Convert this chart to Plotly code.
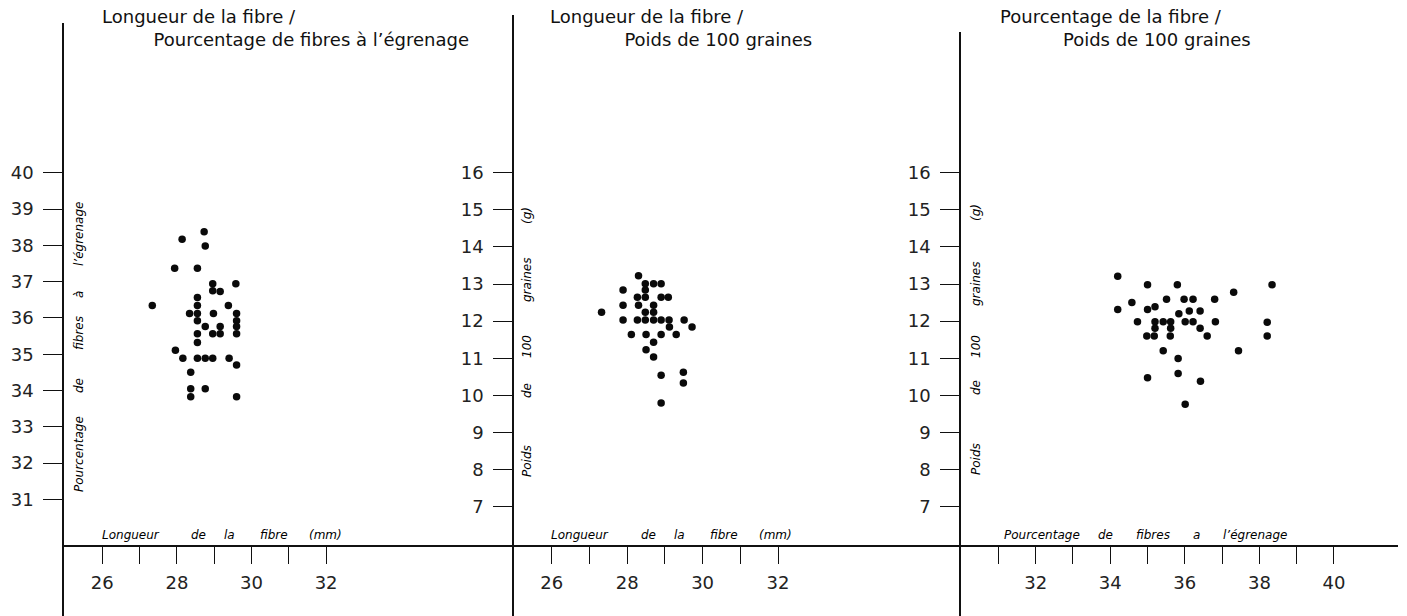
import plotly.graph_objects as go

W, H = 1407, 616

# ---------------- data ----------------
# Panel 1: fibre length (mm) vs ginning out-turn (%)
p1_length = [28.73, 28.14, 28.76, 27.94, 28.55, 28.96, 29.58, 28.96, 29.16, 28.55,
             27.34, 28.55, 29.38, 28.34, 28.55, 28.98, 29.60, 28.55, 29.60, 28.76,
             29.16, 29.60, 28.55, 28.96, 29.16, 29.60, 28.55, 27.96, 28.16, 28.55,
             28.76, 28.96, 29.40, 29.60, 28.37, 28.37, 28.76, 28.37, 29.60]
p1_pct = [38.37, 38.17, 37.98, 37.37, 37.37, 36.94, 36.94, 36.75, 36.73, 36.56,
          36.34, 36.34, 36.34, 36.12, 36.12, 36.12, 36.12, 35.92, 35.92, 35.76,
          35.76, 35.76, 35.56, 35.56, 35.56, 35.56, 35.32, 35.11, 34.89, 34.89,
          34.89, 34.89, 34.89, 34.70, 34.50, 34.05, 34.05, 33.83, 33.83]

# Panel 2: fibre length (mm) vs weight of 100 seeds (g)
p2_length = [28.30, 28.48, 28.70, 28.90, 27.89, 28.48, 28.27, 28.48, 28.90, 29.09,
             27.32, 27.89, 28.30, 28.70, 28.48, 28.70, 27.89, 28.27, 28.48, 28.70,
             28.90, 29.11, 29.51, 29.12, 29.72, 28.11, 28.50, 28.90, 29.30, 28.70,
             28.50, 28.70, 28.90, 29.49, 29.49, 28.90]
p2_weight = [13.22, 13.01, 13.01, 13.01, 12.84, 12.84, 12.64, 12.64, 12.64, 12.64,
             12.24, 12.43, 12.43, 12.43, 12.24, 12.24, 12.03, 12.03, 12.03, 12.03,
             12.03, 12.03, 12.03, 11.84, 11.84, 11.64, 11.64, 11.64, 11.64, 11.43,
             11.23, 11.03, 10.54, 10.62, 10.33, 9.79]

# Panel 3: ginning out-turn (%) vs weight of 100 seeds (g)
p3_pct = [34.20, 35.00, 35.80, 38.34, 37.31, 35.51, 35.98, 36.22, 36.80, 34.58,
          34.20, 35.00, 35.20, 36.12, 36.41, 35.84, 34.73, 35.20, 35.42, 35.62,
          36.01, 36.22, 36.82, 38.21, 35.20, 35.62, 36.41, 34.98, 35.18, 35.61,
          36.60, 38.21, 35.42, 37.44, 35.82, 35.82, 35.00, 36.42, 36.01]
p3_weight = [13.21, 12.98, 12.98, 12.98, 12.78, 12.59, 12.59, 12.59, 12.59, 12.50,
             12.31, 12.31, 12.39, 12.27, 12.27, 12.20, 11.98, 11.98, 11.98, 11.98,
             11.98, 11.98, 11.98, 11.97, 11.81, 11.81, 11.81, 11.60, 11.60, 11.60,
             11.60, 11.60, 11.20, 11.20, 10.99, 10.59, 10.47, 10.38, 9.76]

# tick values / labels
x1_ticks = [26, 27, 28, 29, 30, 31, 32]
x1_labels = ["26", "", "28", "", "30", "", "32"]
y1_ticks = [31, 32, 33, 34, 35, 36, 37, 38, 39, 40]
y2_ticks = [7, 8, 9, 10, 11, 12, 13, 14, 15, 16]
x3_ticks = [31, 32, 33, 34, 35, 36, 37, 38, 39, 40]
x3_labels = ["", "32", "", "34", "", "36", "", "38", "", "40"]

titles = [
    ("Longueur de la fibre /", "Pourcentage de fibres à l’égrenage"),
    ("Longueur de la fibre /", "Poids de 100 graines"),
    ("Pourcentage de la fibre /", "Poids de 100 graines"),
]
x_titles = [
    ["Longueur", "de", "la", "fibre", "(mm)"],
    ["Longueur", "de", "la", "fibre", "(mm)"],
    ["Pourcentage", "de", "fibres", "a", "l’égrenage"],
]
y_titles = [
    ["Pourcentage", "de", "fibres", "à", "l’égrenage"],
    ["Poids", "de", "100", "graines", "(g)"],
    ["Poids", "de", "100", "graines", "(g)"],
]

# ---------------- layout geometry (pixels) ----------------
XAXIS_Y = 546
panels = [
    dict(left=64, right=513, top=23, xv=26, xp=102.3, xu=37.3, yv=40, yp=172.7, yu=36.3),
    dict(left=514, right=961, top=15, xv=26, xp=551.8, xu=37.7, yv=16, yp=172.7, yu=37.1),
    dict(left=961, right=1398, top=32, xv=32, xp=1035.7, xu=37.28, yv=16, yp=172.7, yu=37.1),
]
title_x = [100, 548, 998]
title_indent = [9, 13, 11]   # second-line indent, in spaces
xt_pos = [
    [130.5, 198.5, 229.5, 274, 325],
    [580, 648, 679, 724, 775],
    [1041.5, 1105, 1153, 1196.5, 1254.5],
]
yt_x = [79, 527, 976]
yt_pos = [
    [454, 386, 333, 295, 234],
    [461, 391, 347, 280, 216],
    [459, 388, 347, 284, 213],
]

fig = go.Figure()
datasets = [(p1_length, p1_pct), (p2_length, p2_weight), (p3_pct, p3_weight)]
for i, (xs, ys) in enumerate(datasets):
    sfx = "" if i == 0 else str(i + 1)
    fig.add_trace(go.Scatter(
        x=xs, y=ys, mode="markers", xaxis="x" + sfx, yaxis="y" + sfx,
        marker=dict(size=7.5, color="#0a0a0a", line=dict(width=0)),
        showlegend=False, hoverinfo="skip"))

tickfont = dict(family="DejaVu Sans", size=18, color="#222222")
lay = {}
xtick_sets = [(x1_ticks, x1_labels), (x1_ticks, x1_labels), (x3_ticks, x3_labels)]
ytick_sets = [y1_ticks, y2_ticks, y2_ticks]
for i, p in enumerate(panels):
    sfx = "" if i == 0 else str(i + 1)
    xr = [p["xv"] - (p["xp"] - p["left"]) / p["xu"], p["xv"] + (p["right"] - p["xp"]) / p["xu"]]
    yr = [p["yv"] - (H - p["yp"]) / p["yu"], p["yv"] + (p["yp"] - p["top"]) / p["yu"]]
    tv, tt = xtick_sets[i]
    lay["xaxis" + sfx] = dict(
        domain=[p["left"] / W, p["right"] / W], range=xr, anchor="free",
        position=(H - XAXIS_Y) / H, showline=True, linecolor="#111", linewidth=1.6,
        ticks="outside", ticklen=17, tickwidth=1.4, tickcolor="#111",
        tickvals=tv, ticktext=tt, tickfont=tickfont, ticklabelstandoff=4,
        showgrid=False, zeroline=False, fixedrange=True)
    lay["yaxis" + sfx] = dict(
        domain=[0, (H - p["top"]) / H], range=yr, anchor="x" + sfx,
        showline=True, linecolor="#111", linewidth=1.6,
        ticks="outside", ticklen=19, tickwidth=1.4, tickcolor="#111",
        tickvals=ytick_sets[i], tickfont=tickfont, ticklabelstandoff=6,
        showgrid=False, zeroline=False, fixedrange=True)

annotations = []
titlefont = dict(family="DejaVu Sans", size=18, color="#111")
labfont = dict(family="DejaVu Sans", size=12, color="#000", style="italic")
for i in range(3):
    l1, l2 = titles[i]
    text = l1 + "<br>" + "\u00a0" * title_indent[i] + l2
    annotations.append(dict(text=text, x=title_x[i] / W, y=1 - 28 / H, xref="paper", yref="paper",
                            xanchor="left", yanchor="middle", align="left",
                            showarrow=False, font=titlefont))
    for word, px in zip(x_titles[i], xt_pos[i]):
        annotations.append(dict(text=word, x=px / W, y=1 - 535 / H, xref="paper", yref="paper",
                                xanchor="center", yanchor="middle", showarrow=False, font=labfont))
    for word, py in zip(y_titles[i], yt_pos[i]):
        annotations.append(dict(text=word, x=yt_x[i] / W, y=1 - py / H, xref="paper", yref="paper",
                                xanchor="center", yanchor="middle", textangle=-90,
                                showarrow=False, font=labfont))

fig.update_layout(
    width=W, height=H, margin=dict(l=0, r=0, t=0, b=0),
    paper_bgcolor="white", plot_bgcolor="white",
    annotations=annotations, **lay)

fig.write_html("out.html", config={"displayModeBar": False},
               post_script="document.body.style.margin='0';document.body.style.overflow='hidden';")
